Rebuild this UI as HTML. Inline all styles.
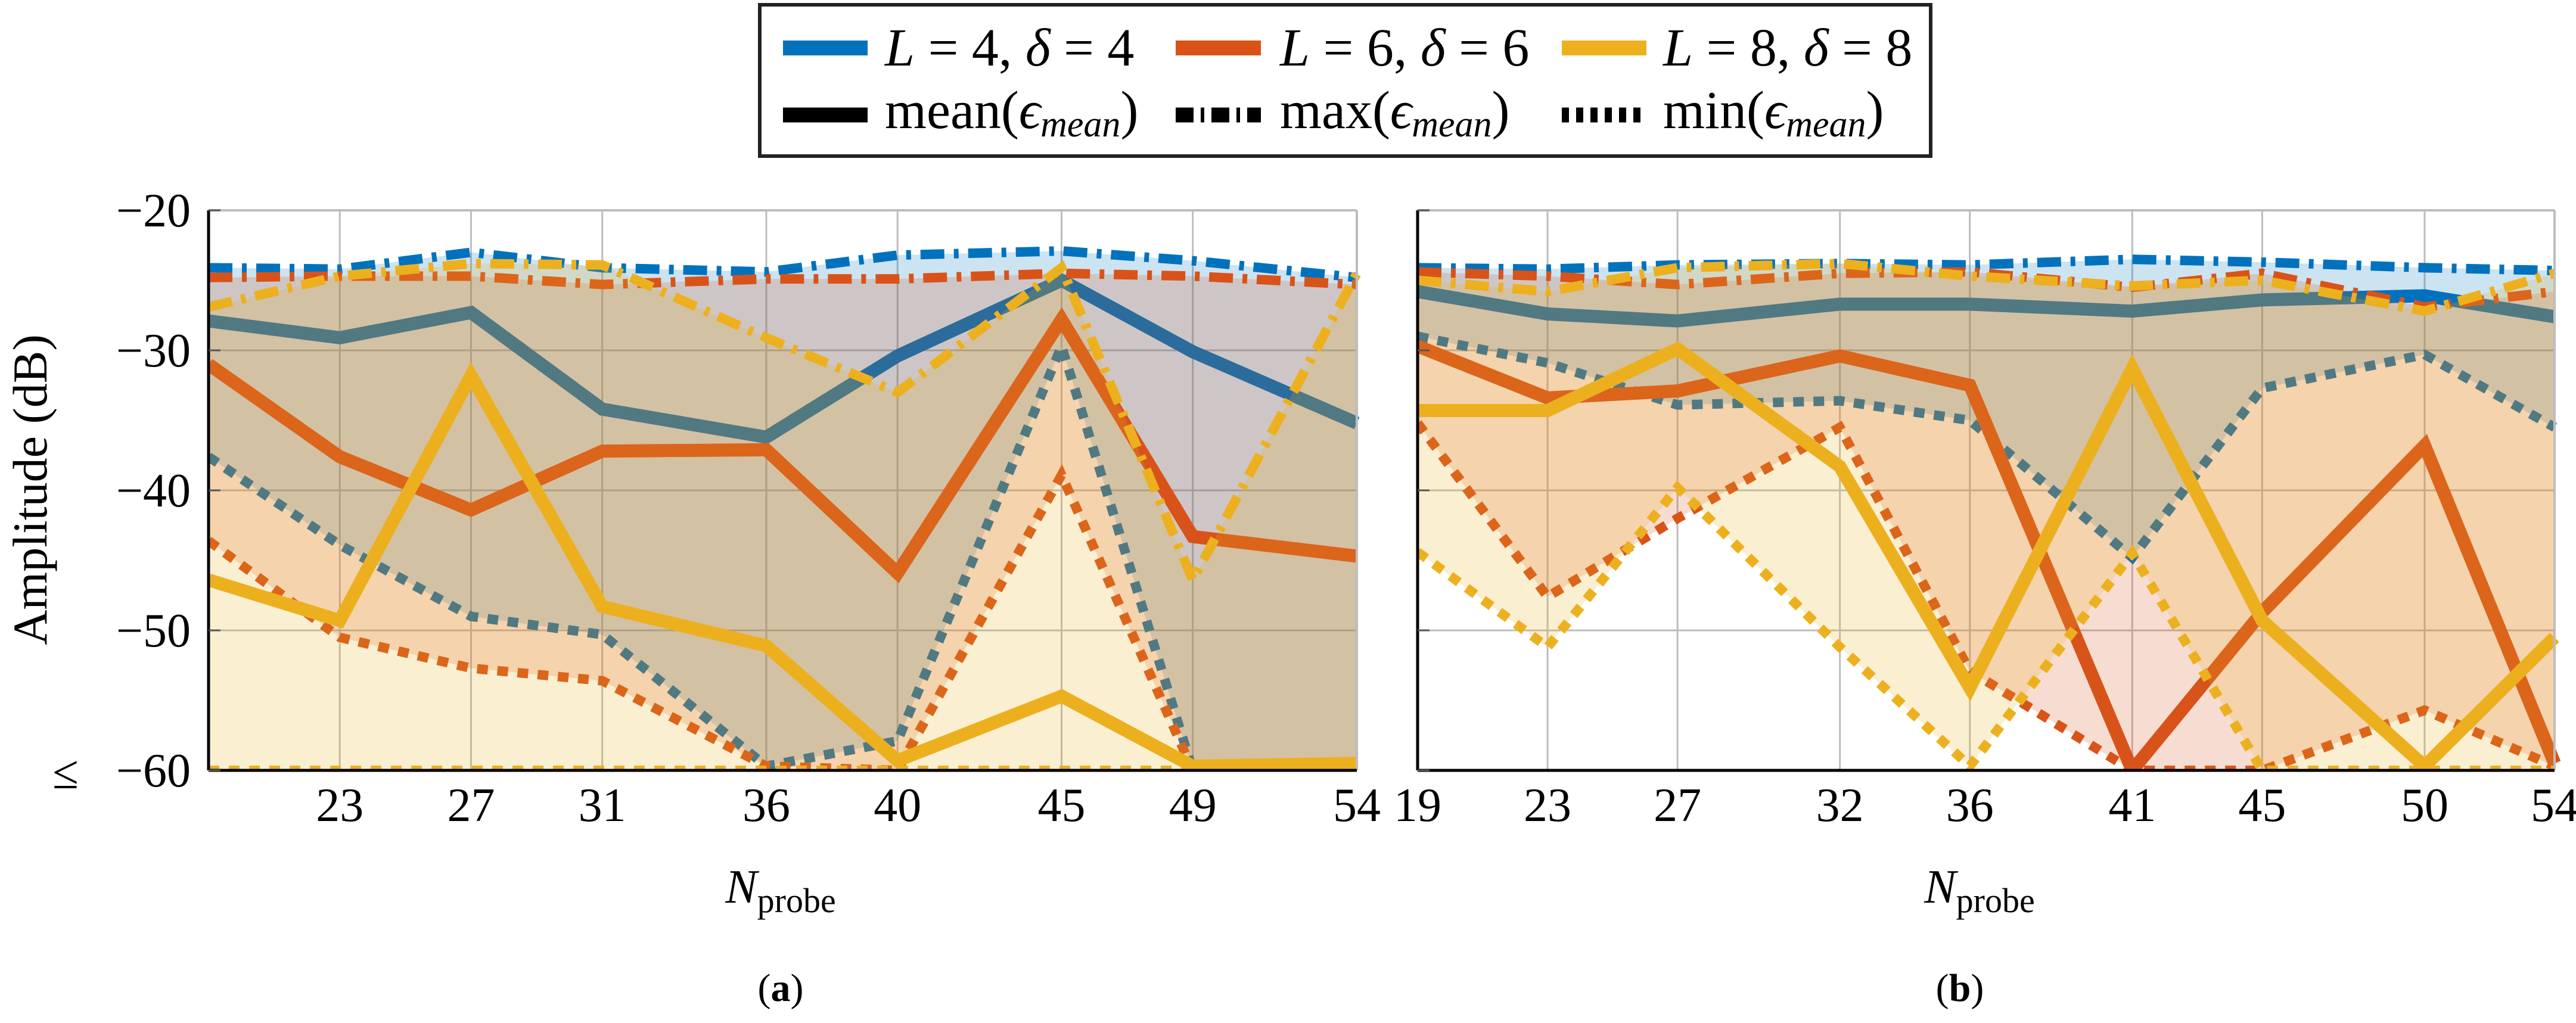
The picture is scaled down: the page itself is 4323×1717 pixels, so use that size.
<!DOCTYPE html>
<html><head><meta charset="utf-8"><style>
body{margin:0;background:#fff}
svg{display:block}
text{font-family:"Liberation Serif",serif;fill:#000}
</style></head><body>
<svg id="s" width="4323" height="1717" viewBox="0 0 4323 1717" xmlns="http://www.w3.org/2000/svg">
<g>
<rect x="1275" y="8" width="1965" height="254" fill="#fff" stroke="#222" stroke-width="6"/>
<rect x="1314" y="68" width="142" height="25" fill="#0072BD"/>
<text x="1485" y="110" font-size="90"><tspan font-style="italic">L</tspan> = 4, <tspan font-style="italic">δ</tspan> = 4</text>
<rect x="1973" y="68" width="143" height="25" fill="#D95319"/>
<text x="2148" y="110" font-size="90"><tspan font-style="italic">L</tspan> = 6, <tspan font-style="italic">δ</tspan> = 6</text>
<rect x="2621" y="68" width="142" height="25" fill="#EDB120"/>
<text x="2791" y="110" font-size="90"><tspan font-style="italic">L</tspan> = 8, <tspan font-style="italic">δ</tspan> = 8</text>
<line x1="1314" y1="193" x2="1456" y2="193" stroke="#000" stroke-width="25"/>
<text x="1485" y="215" font-size="90">mean(<tspan font-style="italic">ϵ</tspan><tspan font-style="italic" font-size="62" dy="14">mean</tspan><tspan dy="-14">)</tspan></text>
<line x1="1973" y1="193" x2="2116" y2="193" stroke="#000" stroke-width="25" stroke-dasharray="30,12,6,12"/>
<text x="2148" y="215" font-size="90">max(<tspan font-style="italic">ϵ</tspan><tspan font-style="italic" font-size="62" dy="14">mean</tspan><tspan dy="-14">)</tspan></text>
<line x1="2621" y1="193" x2="2763" y2="193" stroke="#000" stroke-width="25" stroke-dasharray="12,12"/>
<text x="2791" y="215" font-size="90">min(<tspan font-style="italic">ϵ</tspan><tspan font-style="italic" font-size="62" dy="14">mean</tspan><tspan dy="-14">)</tspan></text>
</g>
<text transform="translate(78,822) rotate(-90)" text-anchor="middle" font-size="82">Amplitude (dB)</text>
<text x="1310" y="1515" text-anchor="middle" font-size="80"><tspan font-style="italic">N</tspan><tspan font-size="58" dy="16">probe</tspan></text>
<text x="3322" y="1515" text-anchor="middle" font-size="80"><tspan font-style="italic">N</tspan><tspan font-size="58" dy="16">probe</tspan></text>
<text x="1310" y="1680" text-anchor="middle" font-size="66">(<tspan font-weight="bold">a</tspan>)</text>
<text x="3289" y="1680" text-anchor="middle" font-size="66">(<tspan font-weight="bold">b</tspan>)</text>
</svg>
<script>
const yTicks=[-20,-30,-40,-50,-60];
const xCatsA=[19,23,27,31,36,40,45,49,54];
const xTickLabelsA=[23,27,31,36,40,45,49,54];
const a_l4_mean=[-27.9,-29.1,-27.3,-34.2,-36.2,-30.4,-25.0,-30.1,-35.2];
const a_l4_max=[-24.1,-24.2,-23.0,-24.1,-24.4,-23.2,-22.9,-23.6,-24.8];
const a_l4_min=[-37.6,-43.9,-49.0,-50.3,-59.7,-57.9,-29.7,-60,-60];
const a_l6_mean=[-31.0,-37.6,-41.4,-37.2,-37.1,-45.9,-27.8,-43.3,-44.7];
const a_l6_max=[-24.8,-24.7,-24.7,-25.3,-24.9,-24.9,-24.5,-24.7,-25.3];
const a_l6_min=[-43.6,-50.5,-52.7,-53.6,-59.7,-60,-38.9,-60,-60];
const a_l8_mean=[-46.4,-49.3,-31.8,-48.3,-51.1,-59.3,-54.7,-59.7,-59.5];
const a_l8_max=[-26.9,-24.7,-23.8,-23.9,-29.1,-33.0,-24.1,-46.4,-24.5];
const a_l8_min=[-60,-60,-60,-60,-60,-60,-60,-60,-60];
const xCatsB=[19,23,27,32,36,41,45,50,54];
const xTickLabelsB=[19,23,27,32,36,41,45,50,54];
const b_l4_mean=[-25.8,-27.4,-27.9,-26.7,-26.7,-27.2,-26.4,-26.1,-27.6];
const b_l4_max=[-24.1,-24.2,-23.9,-23.8,-23.9,-23.5,-23.7,-24.1,-24.3];
const b_l4_min=[-29.0,-30.9,-33.9,-33.6,-35.0,-44.8,-32.7,-30.3,-35.5];
const b_l6_mean=[-29.7,-33.4,-32.9,-30.4,-32.5,-60,-48.7,-36.8,-59.5];
const b_l6_max=[-24.4,-24.7,-25.3,-24.5,-24.4,-25.5,-24.5,-26.9,-25.8];
const b_l6_min=[-35.2,-47.6,-42.0,-35.5,-52.9,-60,-60,-55.7,-59.7];
const b_l8_mean=[-34.3,-34.3,-29.9,-38.3,-54.1,-31.3,-49.3,-59.7,-50.5];
const b_l8_max=[-25.0,-25.8,-24.1,-23.8,-24.7,-25.4,-25.0,-27.2,-24.5];
const b_l8_min=[-44.4,-51.2,-39.8,-51.2,-59.7,-44.5,-60,-60,-60];

const NS="http://www.w3.org/2000/svg";
const svg=document.getElementById('s');
function mk(tag,attrs,parent){const e=document.createElementNS(NS,tag);for(const k in attrs)e.setAttribute(k,attrs[k]);(parent||svg).appendChild(e);return e;}
const colors=['#0072BD','#D95319','#EDB120'];
const names=['l4','l6','l8'];
function panel(id,x0,x1,cats,ticks,series,yLabels){
  const y0=353,y1=1293;
  const sx=v=>x0+(v-19)/(54-19)*(x1-x0);
  const sy=v=>y0+(-20-v)/40*(y1-y0);
  const g=mk('g',{});
  
  
  const grid=mk('g',{},g);
  
  
  ticks.forEach(t=>{mk('line',{x1:sx(t),x2:sx(t),y1:y0,y2:y1,stroke:'#bdbdbd','stroke-width':3},grid);});
  yTicks.forEach(t=>{mk('line',{x1:x0,x2:x1,y1:sy(t),y2:sy(t),stroke:'#bdbdbd','stroke-width':3},grid);});
  const clip=mk('clipPath',{id:'c'+id},g);
  mk('rect',{x:x0,y:y0-20,width:x1-x0+12,height:y1-y0+20},clip);
  const data=mk('g',{'clip-path':'url(#c'+id+')'},g);
  series.forEach((s,i)=>{
    const c=colors[i];
    const pts=arr=>arr.map((v,j)=>sx(cats[j])+','+sy(v));
    const lm=mk('polyline',{points:pts(s.mean).join(' '),fill:'none',stroke:c,'stroke-width':22,'stroke-linejoin':'miter'},data);
    
    
    const lx=mk('polyline',{points:pts(s.max).join(' '),fill:'none',stroke:c,'stroke-width':16,'stroke-dasharray':'40,16,8,16'},data);
    
    
    const ln=mk('polyline',{points:pts(s.min).join(' '),fill:'none',stroke:c,'stroke-width':16,'stroke-dasharray':'18,16'},data);
    
    
    const poly=pts(s.max).concat(pts(s.min).reverse());
    const f=mk('polygon',{points:poly.join(' '),fill:c,'fill-opacity':0.2,stroke:'none'},data);
    
    
  });
  const ax=mk('g',{},g);
  
  
  mk('line',{x1:x0,x2:x1,y1:y0,y2:y0,stroke:'#bdbdbd','stroke-width':4},ax);
  mk('line',{x1:x1,x2:x1,y1:y0,y2:y1,stroke:'#bdbdbd','stroke-width':4},ax);
  mk('line',{x1:x0,x2:x0,y1:y0,y2:y1,stroke:'#000','stroke-width':5},ax);
  mk('line',{x1:x0,x2:x1,y1:y1,y2:y1,stroke:'#000','stroke-width':5},ax);
  yTicks.forEach(t=>{mk('line',{x1:x0,x2:x0+20,y1:sy(t),y2:sy(t),stroke:'#555','stroke-width':3},ax);});
  ticks.forEach(t=>{
    const tx=mk('text',{x:sx(t),y:1378,'text-anchor':'middle','font-size':80},ax);
    tx.textContent=t;
    
    
  });
  if(yLabels){
    yTicks.forEach(t=>{
      const tx=mk('text',{x:x0-30,y:sy(t)+27,'text-anchor':'end','font-size':80},ax);
      tx.textContent='\u2212'+(-t);
      
      
    });
    const le=mk('text',{x:110,y:sy(-60)+30,'text-anchor':'middle','font-size':80},ax);
    le.textContent='\u2264';
    
    
  }
}
panel('a',350,2277,xCatsA,xTickLabelsA,[
  {mean:a_l4_mean,max:a_l4_max,min:a_l4_min},
  {mean:a_l6_mean,max:a_l6_max,min:a_l6_min},
  {mean:a_l8_mean,max:a_l8_max,min:a_l8_min}],true);
panel('b',2379,4287,xCatsB,xTickLabelsB,[
  {mean:b_l4_mean,max:b_l4_max,min:b_l4_min},
  {mean:b_l6_mean,max:b_l6_max,min:b_l6_min},
  {mean:b_l8_mean,max:b_l8_max,min:b_l8_min}],false);
</script>
</body></html>
